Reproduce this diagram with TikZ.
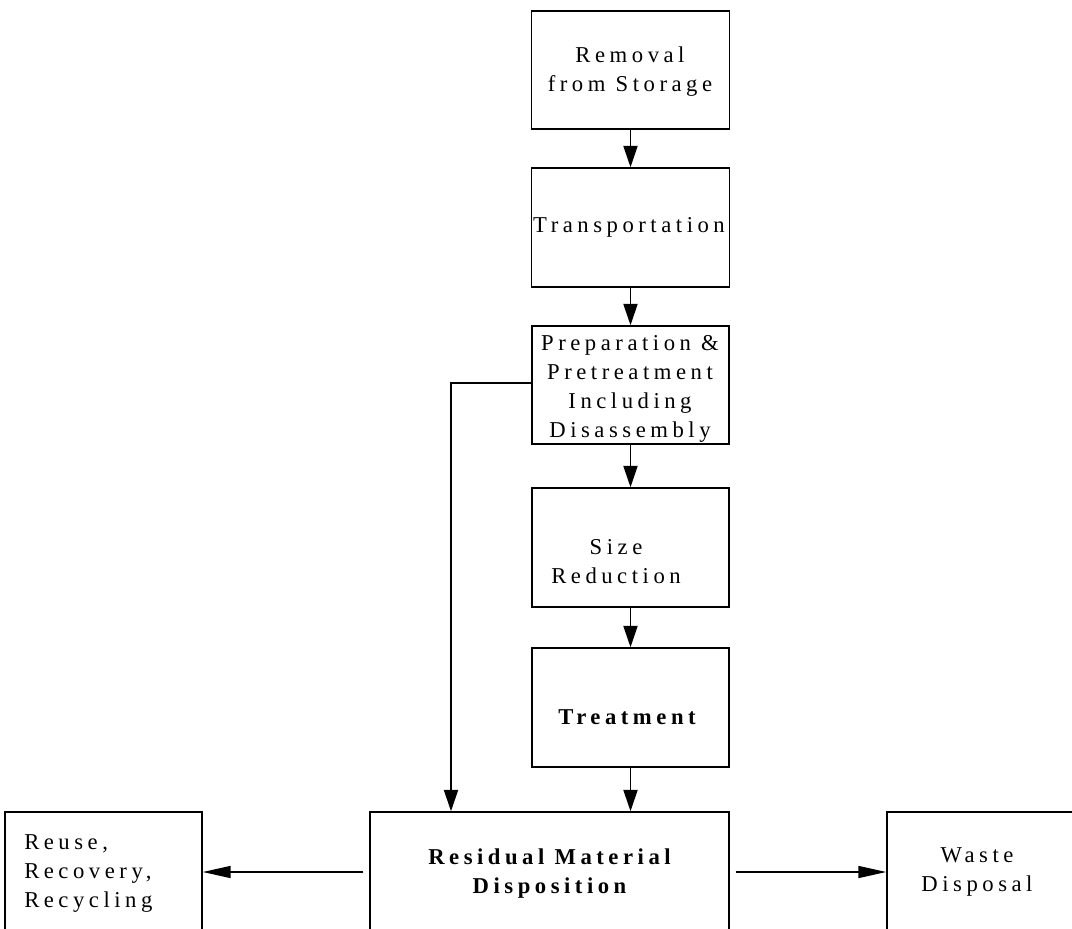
\documentclass[tikz,border=0pt]{standalone}
\usepackage{fontspec}
\setmainfont{Liberation Serif}[LetterSpace=20]
\usetikzlibrary{arrows.meta}
\begin{document}
\begin{tikzpicture}[x=0.75pt,y=-0.75pt,
  box/.style 2 args={draw, line width=1.1pt, inner sep=0pt, minimum width=#1*0.75pt, minimum height=#2*0.75pt},
  txt/.style={align=center, inner sep=0pt, font=\fontsize{17}{21.75}\selectfont},
  arr/.style={line width=1.4pt, -{Triangle[length=16pt,width=10.5pt]}},
  harr/.style={line width=1.2pt, shorten <=4.5pt, -{Triangle[length=21pt,width=9pt]}}]
\useasboundingbox (0,0) rectangle (1072,929);
\clip (0,0) rectangle (1072,929);
% boxes
\node[box={198}{118}] (b1) at (630.5,70) {};
\node[box={198}{119}] (b2) at (630.5,227.5) {};
\node[box={197}{118}] (b3) at (630.5,385) {};
\node[box={197}{119}] (b4) at (630.5,547.5) {};
\node[box={197}{119}] (b5) at (630.5,707.5) {};
\node[box={359}{120}] (b6) at (549.5,872) {};
\node[box={197}{120}] (b7) at (103.5,872) {};
\node[box={193}{120}] (b8) at (983.5,872) {};
% texts
\node[txt] (t1) at (630,72) {Removal\\from Storage};
\node[txt] (t2) at (629,227) {Transportation};
\node[txt] (t3) at (630,389) {Preparation \&\\Pretreatment\\Including\\Disassembly};
\node[txt] (t4) at (616,562) {Size\\Reduction};
\node[txt, font=\fontsize{17}{21.75}\selectfont\bfseries] (t5) at (627,717) {Treatment};
\node[txt, font=\fontsize{17}{21.75}\selectfont\bfseries] (t6) at (549.5,874) {Residual Material\\Disposition};
\node[txt, align=left, anchor=west] (t7) at (24,874) {Reuse,\\Recovery,\\Recycling};
\node[txt] (t8) at (977,872) {Waste\\Disposal};
% connectors
\draw[arr] (b1.south) -- (b2.north);
\draw[arr] (b2.south) -- (b3.north);
\draw[arr] (b3.south) -- (b4.north);
\draw[arr] (b4.south) -- (b5.north);
\draw[arr] (b5.south) -- (b5.south |- b6.north);
\coordinate (bend) at (451,383);
\draw[arr] (b3.west |- bend) -- (bend) -- (bend |- b6.north);
\draw[harr] (b6.west) -- (b7.east);
\draw[harr] (b6.east) -- (b8.west);
\end{tikzpicture}
\end{document}
